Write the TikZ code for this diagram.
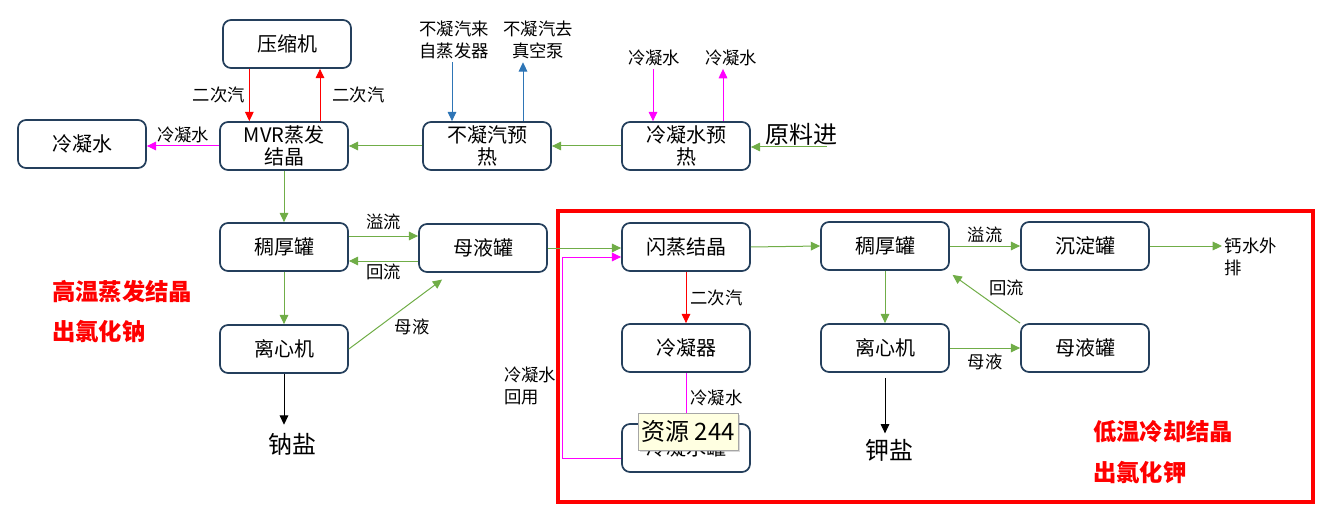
\documentclass[tikz,border=0pt]{standalone}
\usepackage{fontspec}
\setmainfont{Noto Sans CJK SC}
\usetikzlibrary{arrows.meta,shadows}
\definecolor{navy}{HTML}{243F5C}
\definecolor{lvse}{HTML}{70AD47}
\definecolor{fenhong}{HTML}{FF00FF}
\definecolor{lanse}{HTML}{2E75B6}
\definecolor{tipbg}{HTML}{FFFFE1}

\begin{document}
\begin{tikzpicture}[x=0.75pt,y=-0.75pt,>={Triangle[length=7pt,width=6.5pt]},
    box/.style={draw=navy,line width=1.3pt,rounded corners=6pt,minimum width=96pt,minimum height=36pt,inner sep=1pt,align=center,font=\fontsize{15}{17}\selectfont},
    lbl/.style={font=\fontsize{13}{17}\selectfont,inner sep=2pt,text=black},
    big/.style={font=\fontsize{18}{20}\selectfont,inner sep=1pt},
    title/.style={font=\bfseries\fontsize{17.5}{20}\selectfont,text=red,anchor=west,inner sep=0pt},
    flow/.style={->,line width=0.75pt}]
    \useasboundingbox (0,0) rectangle (1322,510);

    % boxes
    \node[box] at (287, 44)(ysj){压缩机};
    \node[box] at (82, 144)(lnsL){冷凝水};
    \node[box] at (284, 146)(mvr){MVR蒸发\\结晶};
    \node[box] at (487, 146)(bnq){不凝汽预\\热};
    \node[box] at (686, 146)(lnsy){冷凝水预\\热};
    \node[box] at (284, 247)(ch1){稠厚罐};
    \node[box] at (483, 248)(myg1){母液罐};
    \node[box] at (284, 349)(lxj1){离心机};
    \node[box] at (686, 247)(sz){闪蒸结晶};
    \node[box] at (686, 348)(lnq){冷凝器};
    \node[box] at (686, 448)(lng){冷凝水罐};
    \node[box] at (885, 246)(ch2){稠厚罐};
    \node[box] at (1085, 246)(cd){沉淀罐};
    \node[box] at (885, 348)(lxj2){离心机};
    \node[box] at (1085, 348)(myg2){母液罐};

    % free texts
    \node[lbl,align=center] at (454, 40)(bnlai){不凝汽来\\自蒸发器};
    \node[lbl,align=center] at (538, 40)(bnqu){不凝汽去\\真空泵};
    \node[lbl] at (654, 58)(lsin){冷凝水};
    \node[lbl] at (731, 58)(lsout){冷凝水};
    \node[big] at (801, 134)(yl){原料进};
    \coordinate (ylin) at (827, 147);
    \node[big] at (292, 444)(na){钠盐};
    \node[big] at (889, 450)(k){钾盐};
    \node[lbl,align=left,anchor=west] at (1222, 257)(ghs){钙水外\\排};
    \node[lbl,align=left] at (530, 386)(hy){冷凝水\\回用};

    \node[title] at (52, 292){高温蒸发结晶};
    \node[title] at (52, 332){出氯化钠};
    \node[title] at (1093, 432){低温冷却结晶};
    \node[title] at (1093, 473){出氯化钾};

    \draw[red,line width=3pt] (558, 211) rectangle (1313, 502);

    % connectors
    \path[flow,red]
    ([xshift=-26pt]mvr.north |- ysj.south)edge node[left=1pt,lbl]{二次汽} ([xshift=-26pt]mvr.north)
    ([xshift=27pt]mvr.north)edge node[right=7pt,lbl]{二次汽} ([xshift=27pt]mvr.north |- ysj.south)
    (sz.south)edge node[right=1pt,lbl]{二次汽} (lnq.north)
    ;
    \path[flow,lanse]
    ([xshift=-1.5pt]bnlai.south)edge ([xshift=-1.5pt]bnlai.south |- bnq.north)
    ([xshift=27pt]bnq.north)edge ([xshift=27pt]bnq.north |- bnqu.south)
    ;
    \path[flow,fenhong]
    (mvr.west)edge node[above,lbl]{冷凝水} (mvr.west -| lnsL.east)
    ([xshift=-24.75pt]lnsy.north |- lsin.south)edge ([xshift=-24.75pt]lnsy.north)
    ([xshift=27.75pt]lnsy.north)edge ([xshift=27.75pt]lnsy.north |- lsout.south)
    (lnq.south)edge node[right=1pt,lbl]{冷凝水} (lng.north)
    ;
    \draw[flow,fenhong] ([yshift=-8pt]lng.west) -- ++(-44pt,0) |- ([yshift=-7.5pt]sz.west);
    \path[flow,lvse]
    (ylin)edge (ylin -| lnsy.east)
    (lnsy.west)edge (bnq.east)
    (bnq.west)edge (mvr.east)
    (mvr.south)edge (ch1.north)
    ([yshift=8.25pt]ch1.east)edge node[above=2pt,lbl]{溢流} ([yshift=8.25pt]ch1.east -| myg1.west)
    ([yshift=-9.75pt]myg1.west)edge node[below,lbl]{回流} ([yshift=-9.75pt]myg1.west -| ch1.east)
    (ch1.south)edge (lxj1.north)
    (lxj1.east)edge node[below right=1pt,xshift=-4pt,lbl]{母液} ([xshift=18pt,yshift=-5pt]myg1.south west)
    (myg1.east)edge (myg1.east -| sz.west)
    (sz.east)edge (ch2.west)
    (ch2.east)edge node[above,lbl]{溢流} (cd.west)
    (cd.east)edge (cd.east -| ghs.west)
    (ch2.south)edge (lxj2.north)
    (lxj2.east)edge node[below=2pt,lbl]{母液} (myg2.west)
    (myg2.north west)edge node[above right,lbl]{回流} ([xshift=2pt,yshift=-3pt]ch2.south east)
    ;
    \path[flow,black]
    (lxj1.south)edge ([yshift=5pt]lxj1.south |- na.north)
    ([yshift=-3.75pt]lxj2.south)edge ([yshift=3pt]lxj2.south |- k.north)
    ;

    % tooltip
    \node[draw=gray!70,fill=tipbg,drop shadow={opacity=0.3,shadow xshift=1.5pt,shadow yshift=-1.5pt},
        minimum width=75pt,minimum height=27.75pt,inner sep=1pt,font=\fontsize{18}{20}\selectfont] at (688, 431.5)(tip){资源 244};
\end{tikzpicture}
\end{document}
